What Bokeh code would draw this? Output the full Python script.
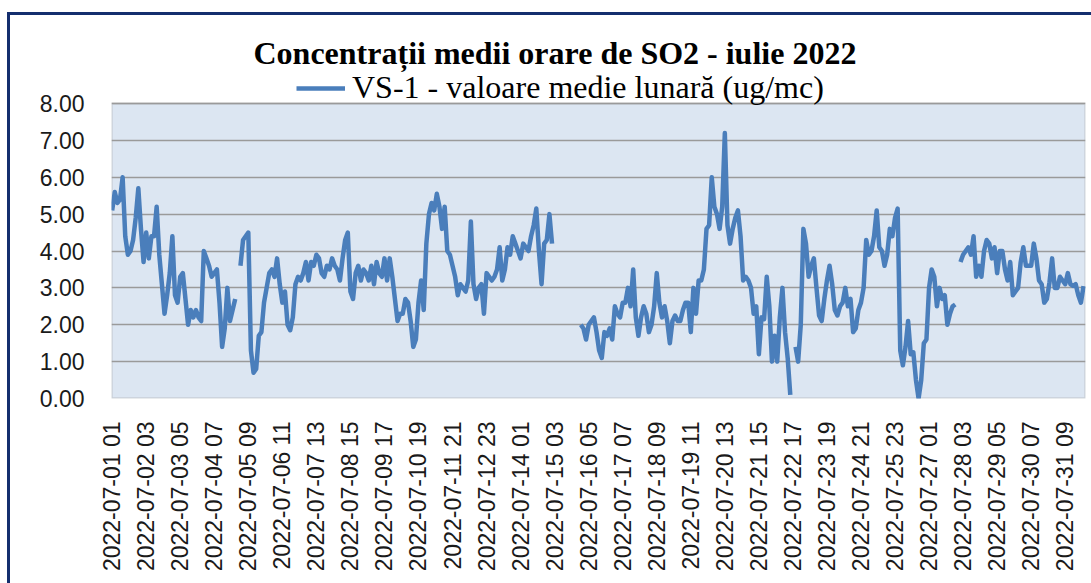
import math
from bokeh.plotting import figure
from bokeh.models import (ColumnDataSource, FixedTicker, NumeralTickFormatter, Legend,
                          LegendItem, Title, Range1d, BoxAnnotation)
from bokeh.embed import file_html
from bokeh.resources import INLINE

# ---- data: SO2 hourly means, July 2022, read every 2 hours (None = missing) ----
series_name = "VS-1 - valoare medie lunară (ug/mc)"
title_text = "Concentrații medii orare de SO2 - iulie 2022"

d01 = [5.1, 5.6, 5.3, 5.4, 6.0, 4.4, 3.9, 4.0, 4.3, 4.9, 5.7, 4.6]
d02 = [3.7, 4.5, 3.8, 4.4, 4.4, 5.2, 3.9, 3.1, 2.3, 2.8, 3.4, 4.4]
d03 = [2.8, 2.6, 3.3, 3.4, 2.7, 2.0, 2.4, 2.2, 2.4, 2.2, 2.1, 4.0]
d04 = [3.8, 3.6, 3.3, 3.4, 3.5, 2.6, 1.4, 1.9, 3.0, 2.1, 2.4, 2.7]
d05 = [None, 3.6, 4.3, 4.4, 4.5, 1.3, 0.7, 0.8, 1.7, 1.8, 2.6, 3.0]
d06 = [3.4, 3.5, 3.3, 3.8, 3.1, 2.6, 2.9, 2.0, 1.85, 2.2, 3.1, 3.3]
d07 = [3.2, 3.4, 3.7, 3.2, 3.7, 3.6, 3.9, 3.8, 3.4, 3.3, 3.6, 3.5]
d08 = [3.8, 3.6, 3.5, 3.2, 3.8, 4.3, 4.5, 2.9, 2.7, 3.4, 3.6, 3.2]
d09 = [3.5, 3.4, 3.2, 3.6, 3.1, 3.7, 3.4, 3.3, 3.8, 3.2, 3.8, 3.3]
d10 = [2.7, 2.1, 2.3, 2.3, 2.7, 2.6, 2.1, 1.4, 1.6, 2.6, 3.2, 2.4]
d11 = [4.2, 5.0, 5.3, 5.1, 5.55, 5.2, 4.6, 5.2, 4.0, 3.9, 3.6, 3.3]
d12 = [2.8, 3.1, 3.0, 2.9, 3.2, 4.8, 3.1, 2.7, 3.0, 3.1, 2.3, 3.4]
d13 = [3.3, 3.2, 3.3, 3.5, 4.1, 3.2, 3.5, 4.1, 3.9, 4.4, 4.2, 4.0]
d14 = [3.8, 4.2, 4.1, 4.0, 4.4, 4.7, 5.15, 4.0, 3.1, 4.2, 4.3, 5.0]
d15 = [4.2, None, None, None, None, None, None, None, None, None, None, 2.0]
d16 = [1.9, 1.6, 2.0, 2.1, 2.2, 1.8, 1.3, 1.1, 1.8, 1.7, 1.9, 1.6]
d17 = [2.5, 2.3, 2.2, 2.6, 2.6, 3.0, 2.5, 3.5, 2.2, 1.7, 2.2, 2.5]
d18 = [2.3, 1.8, 2.0, 2.5, 3.4, 2.6, 2.2, 2.5, 2.1, 1.5, 2.1, 2.25]
d19 = [2.1, 2.1, 2.4, 2.6, 2.6, 1.8, 3.0, 2.3, 3.2, 3.2, 3.5, 4.6]
d20 = [4.7, 6.0, 5.2, 5.0, 4.6, 5.2, 7.2, 4.7, 4.2, 4.6, 4.9, 5.1]
d21 = [4.4, 3.2, 3.3, 3.2, 3.0, 2.3, 2.5, 1.2, 2.2, 2.15, 3.3, 2.5]
d22 = [1.0, 1.7, 1.0, 2.2, 3.0, 1.8, 1.1, 0.1, None, 1.4, 1.0, 2.0]
d23 = [4.6, 4.2, 3.3, 3.6, 3.8, 3.0, 2.25, 2.1, 2.7, 3.2, 3.6, 3.1]
d24 = [2.4, 2.25, 2.5, 2.6, 3.0, 2.5, 2.7, 1.8, 1.9, 2.4, 2.6, 3.0]
d25 = [4.3, 3.9, 4.0, 4.4, 5.1, 4.1, 4.0, 3.6, 3.9, 4.6, 4.4, 4.9]
d26 = [5.15, 1.3, 0.9, 1.4, 2.1, 1.2, 1.25, 0.5, 0.0, 0.5, 1.5, 1.6]
d27 = [3.0, 3.5, 3.3, 2.5, 3.0, 2.7, 2.8, 2.0, 2.3, 2.5, 2.55, None]
d28 = [3.7, 3.9, 4.0, 4.1, 3.9, 4.4, 3.3, 3.6, 3.3, 4.0, 4.3, 4.2]
d29 = [3.8, 4.1, 3.4, 4.0, 4.0, 3.5, 3.2, 3.7, 2.8, 2.9, 3.0, 3.7]
d30 = [4.1, 3.6, 3.6, 3.6, 4.2, 3.8, 3.2, 3.1, 2.6, 2.7, 3.15, 3.8]
d31 = [3.0, 3.0, 3.3, 3.2, 3.1, 3.4, 3.1, 3.05, 3.1, 2.8, 2.6, 3.05]

tick_labels = ["2022-07-01 01", "2022-07-02 03", "2022-07-03 05", "2022-07-04 07",
               "2022-07-05 09", "2022-07-06 11", "2022-07-07 13", "2022-07-08 15",
               "2022-07-09 17", "2022-07-10 19", "2022-07-11 21", "2022-07-12 23",
               "2022-07-14 01", "2022-07-15 03", "2022-07-16 05", "2022-07-17 07",
               "2022-07-18 09", "2022-07-19 11", "2022-07-20 13", "2022-07-21 15",
               "2022-07-22 17", "2022-07-23 19", "2022-07-24 21", "2022-07-25 23",
               "2022-07-27 01", "2022-07-28 03", "2022-07-29 05", "2022-07-30 07",
               "2022-07-31 09"]

y_ticks = [0, 1, 2, 3, 4, 5, 6, 7, 8]

days = [d01, d02, d03, d04, d05, d06, d07, d08, d09, d10, d11, d12, d13, d14, d15, d16,
        d17, d18, d19, d20, d21, d22, d23, d24, d25, d26, d27, d28, d29, d30, d31]

hours, vals = [], []
for di, day in enumerate(days):
    for k, v in enumerate(day):
        hours.append(di * 24 + 2 * k)          # hour index, 0 = 2022-07-01 01
        vals.append(float("nan") if v is None else v)

def label_hour(lbl):
    d = int(lbl[8:10]); h = int(lbl[11:13])
    return (d - 1) * 24 + (h - 1)

tick_pos = [label_hour(l) for l in tick_labels]
n_hours = 31 * 24

src = ColumnDataSource(dict(x=hours, y=vals))

# ---- figure (canvas starts at page x=10, y=15 because of the CSS border/margin) ----
# the frame also holds the legend row above the 0..8 plot area
y_top = y_ticks[-1] * 328 / 295
p = figure(frame_width=974, frame_height=328, output_backend="svg", toolbar_location=None,
           x_range=Range1d(-0.5, n_hours - 0.5), y_range=Range1d(0, y_top),
           min_border_left=101, min_border_right=6, min_border_top=55,
           min_border_bottom=185, title=None)
p.styles = {"border-left": "3px solid #142E6E", "border-top": "3px solid #142E6E",
            "margin-left": "7px", "margin-top": "12px"}
p.background_fill_color = "white"
p.border_fill_color = "white"
p.outline_line_color = None

# plot area (light blue, gray border)
plot_area = BoxAnnotation(bottom=y_ticks[0], top=y_ticks[-1], left=-0.5, right=n_hours - 0.5,
                          fill_color="#DCE6F2", fill_alpha=1.0,
                          line_color="#9a9a9a", line_width=2.5, level="image")
p.add_layout(plot_area)

r = p.line("x", "y", source=src, line_color="#4A7EBB", line_width=4.5, line_join="round")

# axes
p.yaxis.ticker = FixedTicker(ticks=y_ticks)
p.yaxis.formatter = NumeralTickFormatter(format="0.00")
p.yaxis.axis_line_color = None
p.yaxis.major_tick_line_color = None
p.yaxis.minor_tick_line_color = None
p.yaxis.major_label_standoff = 21
p.yaxis.major_label_text_font = "Liberation Sans"
p.yaxis.major_label_text_font_size = "23px"
p.yaxis.major_label_text_color = "#1a1a1a"

p.xaxis.ticker = FixedTicker(ticks=tick_pos)
p.xaxis.major_label_overrides = {t: l for t, l in zip(tick_pos, tick_labels)}
p.xaxis.major_label_orientation = math.pi / 2
p.xaxis.axis_line_color = None
p.xaxis.major_tick_line_color = None
p.xaxis.minor_tick_line_color = None
p.xaxis.major_label_standoff = 17
p.xaxis.major_label_text_font = "Liberation Sans"
p.xaxis.major_label_text_font_size = "23px"
p.xaxis.major_label_text_color = "#1a1a1a"

p.xgrid.grid_line_color = None
p.ygrid.grid_line_color = "#9a9a9a"
p.ygrid.grid_line_width = 1.5

# legend in the row above the plot area
legend = Legend(items=[LegendItem(label=series_name, renderers=[r])],
                location=(185, 292), orientation="horizontal",
                label_text_font="Liberation Serif", label_text_font_size="32px",
                label_text_color="#000000", glyph_width=49, glyph_height=20,
                label_standoff=7, padding=0, margin=0, spacing=0,
                border_line_color=None, background_fill_alpha=0)
p.add_layout(legend, "center")

title = Title(text=title_text, text_font="Liberation Serif", text_font_size="32px",
              text_font_style="bold", text_color="#000000", align="left", offset=142,
              standoff=0)
p.add_layout(title, "above")

open("out.html", "w").write(file_html(p, INLINE))
